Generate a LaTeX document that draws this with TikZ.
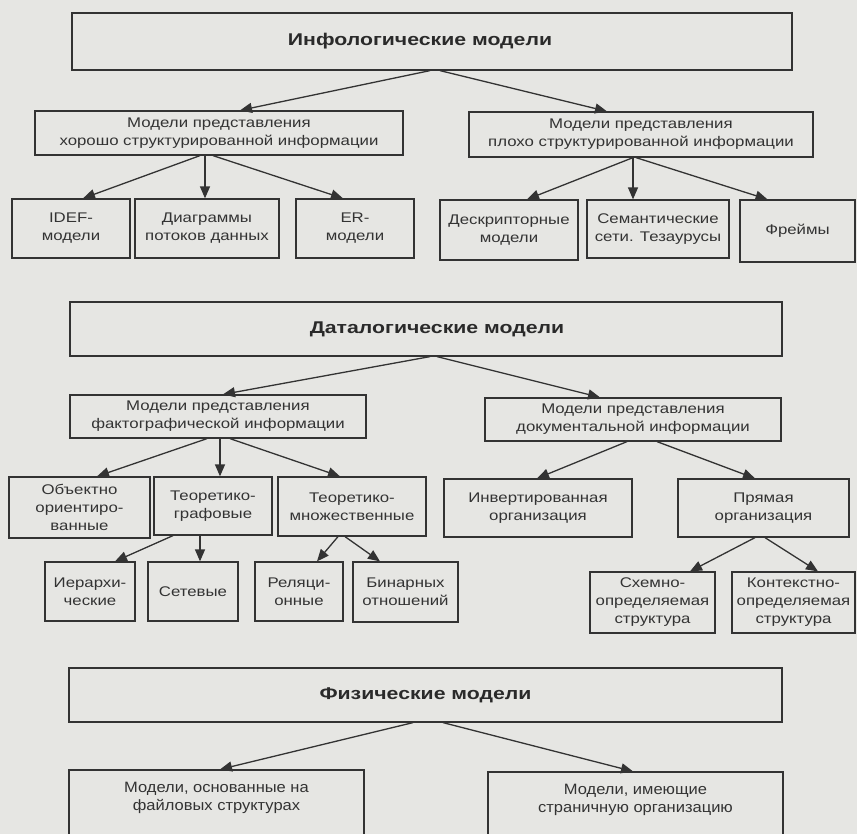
\documentclass[tikz,border=0pt]{standalone}
\usepackage{fontspec}
\setmainfont{Liberation Sans}
\newfontfamily\boxfont[FakeStretch=1.2]{Liberation Sans}
\newfontfamily\headfont[FakeStretch=1.25]{Liberation Sans}
\newfontfamily\lowfont[FakeStretch=1.1]{Liberation Sans}
\usetikzlibrary{arrows.meta}
\definecolor{paper}{HTML}{E6E6E3}
\definecolor{ink}{HTML}{333333}
\definecolor{headink}{HTML}{2A2A2A}
\begin{document}
\begin{tikzpicture}[x=1pt,y=-1pt,
  box/.style={draw=ink, line width=1.25pt, rectangle, inner sep=0pt, align=center,
    text=ink, font=\boxfont\fontsize{14}{18}\selectfont},
  head/.style={box, text=headink, font=\headfont\bfseries\fontsize{17}{20}\selectfont},
  lowbox/.style={box, font=\lowfont\fontsize{15}{18}\selectfont},
  link/.style={draw=ink, line width=1.3pt, -{Triangle[length=12pt,width=10pt]}},
]
\fill[paper] (0,0) rectangle (857,834);
\useasboundingbox (0,0) rectangle (857,834);
\clip (0,0) rectangle (857,834);

% ---- infological level ----
\node[head, minimum width=720pt, minimum height=57pt] (T1) at (432,41.5) {\hspace*{-24pt}Инфологические модели};
\node[box, minimum width=368pt, minimum height=44pt] (A1) at (219,133) {Модели представления\\хорошо структурированной информации};
\node[box, minimum width=344pt, minimum height=45pt] (A2) at (641,134.5) {Модели представления\\плохо структурированной информации};
\node[box, minimum width=118pt, minimum height=59pt] (L1) at (71,228.5) {IDEF-\\модели};
\node[box, minimum width=144pt, minimum height=59pt] (L2) at (207,228.5) {Диаграммы\\потоков данных};
\node[box, minimum width=118pt, minimum height=59pt] (L3) at (355,228.5) {ER-\\модели};
\node[box, minimum width=138pt, minimum height=60pt] (L4) at (509,230) {Дескрипторные\\модели};
\node[box, minimum width=142pt, minimum height=58pt] (L5) at (658,229) {Семантические\\сети. Тезаурусы};
\node[box, minimum width=115pt, minimum height=62pt] (L6) at (797.5,231) {Фреймы};

\draw[link] ([xshift=-2pt]T1.south) -- ([xshift=21pt]A1.north);
\draw[link] ([xshift=8pt]T1.south) -- ([xshift=-34pt]A2.north);
\draw[link] ([xshift=-19pt]A1.south) -- ([xshift=12pt]L1.north);
\draw[link] ([xshift=-14pt]A1.south) -- ([xshift=-2pt]L2.north);
\draw[link] ([xshift=-6pt]A1.south) -- ([xshift=-12pt]L3.north);
\draw[link] ([xshift=-8pt]A2.south) -- ([xshift=18pt]L4.north);
\draw[link] ([xshift=-8pt]A2.south) -- ([xshift=-25pt]L5.north);
\draw[link] ([xshift=-5pt]A2.south) -- ([xshift=-30pt]L6.north);

% ---- datalogical level ----
\node[head, minimum width=712pt, minimum height=54pt] (T2) at (426,329) {\hspace*{22pt}Даталогические модели};
\node[box, minimum width=296pt, minimum height=43pt] (B1) at (218,416.5) {Модели представления\\фактографической информации};
\node[box, minimum width=296pt, minimum height=43pt] (B2) at (633,419.5) {Модели представления\\документальной информации};
\node[box, minimum width=141pt, minimum height=61pt] (C1) at (79.5,507.5) {Объектно\\ориентиро-\\ванные};
\node[box, minimum width=118pt, minimum height=58pt] (C2) at (213,506) {Теоретико-\\графовые};
\node[box, minimum width=148pt, minimum height=59pt] (C3) at (352,506.5) {Теоретико-\\множественные};
\node[box, minimum width=188pt, minimum height=58pt] (C4) at (538,508) {Инвертированная\\организация};
\node[box, minimum width=171pt, minimum height=58pt] (C5) at (763.5,508) {Прямая\\организация};
\node[box, minimum width=90pt, minimum height=59pt] (D1) at (90,591.5) {Иерархи-\\ческие};
\node[box, minimum width=90pt, minimum height=59pt] (D2) at (193,591.5) {Сетевые};
\node[box, minimum width=88pt, minimum height=59pt] (D3) at (299,591.5) {Реляци-\\онные};
\node[box, minimum width=105pt, minimum height=60pt] (D4) at (405.5,592) {Бинарных\\отношений};
\node[box, minimum width=125pt, minimum height=61pt] (D5) at (652.5,602.5) {Схемно-\\определяемая\\структура};
\node[box, minimum width=123pt, minimum height=61pt] (D6) at (793.5,602.5) {Контекстно-\\определяемая\\структура};

\draw[link] ([xshift=4pt]T2.south) -- ([xshift=5pt]B1.north);
\draw[link] ([xshift=11pt]T2.south) -- ([xshift=-33pt]B2.north);
\draw[link] ([xshift=-11pt]B1.south) -- ([xshift=17.5pt]C1.north);
\draw[link] ([xshift=2pt]B1.south) -- ([xshift=7pt]C2.north);
\draw[link] ([xshift=12pt]B1.south) -- ([xshift=-12pt]C3.north);
\draw[link] ([xshift=-40pt]C2.south) -- ([xshift=25pt]D1.north);
\draw[link] ([xshift=-13pt]C2.south) -- ([xshift=7pt]D2.north);
\draw[link] ([xshift=-14pt]C3.south) -- ([xshift=18pt]D3.north);
\draw[link] ([xshift=-7pt]C3.south) -- ([xshift=-25.5pt]D4.north);
\draw[link] ([xshift=-6pt]B2.south) -- ([xshift=-1pt]C4.north);
\draw[link] ([xshift=24pt]B2.south) -- ([xshift=-8.5pt]C5.north);
\draw[link] ([xshift=-8.5pt]C5.south) -- ([xshift=37.5pt]D5.north);
\draw[link] ([xshift=1.5pt]C5.south) -- ([xshift=24.5pt]D6.north);

% ---- physical level ----
\node[head, minimum width=713pt, minimum height=54pt] (T3) at (425.5,695) {Физические модели};
\node[lowbox, minimum width=295pt, minimum height=76pt] (E1) at (216.5,808) {Модели, основанные на\\файловых структурах\\\strut};
\node[lowbox, minimum width=295pt, minimum height=76pt] (E2) at (635.5,810) {Модели, имеющие\\страничную организацию\\\strut};

\draw[link] ([xshift=-12.5pt]T3.south) -- ([xshift=3.5pt]E1.north);
\draw[link] ([xshift=17.5pt]T3.south) -- ([xshift=-2.5pt]E2.north);
\end{tikzpicture}
\end{document}
